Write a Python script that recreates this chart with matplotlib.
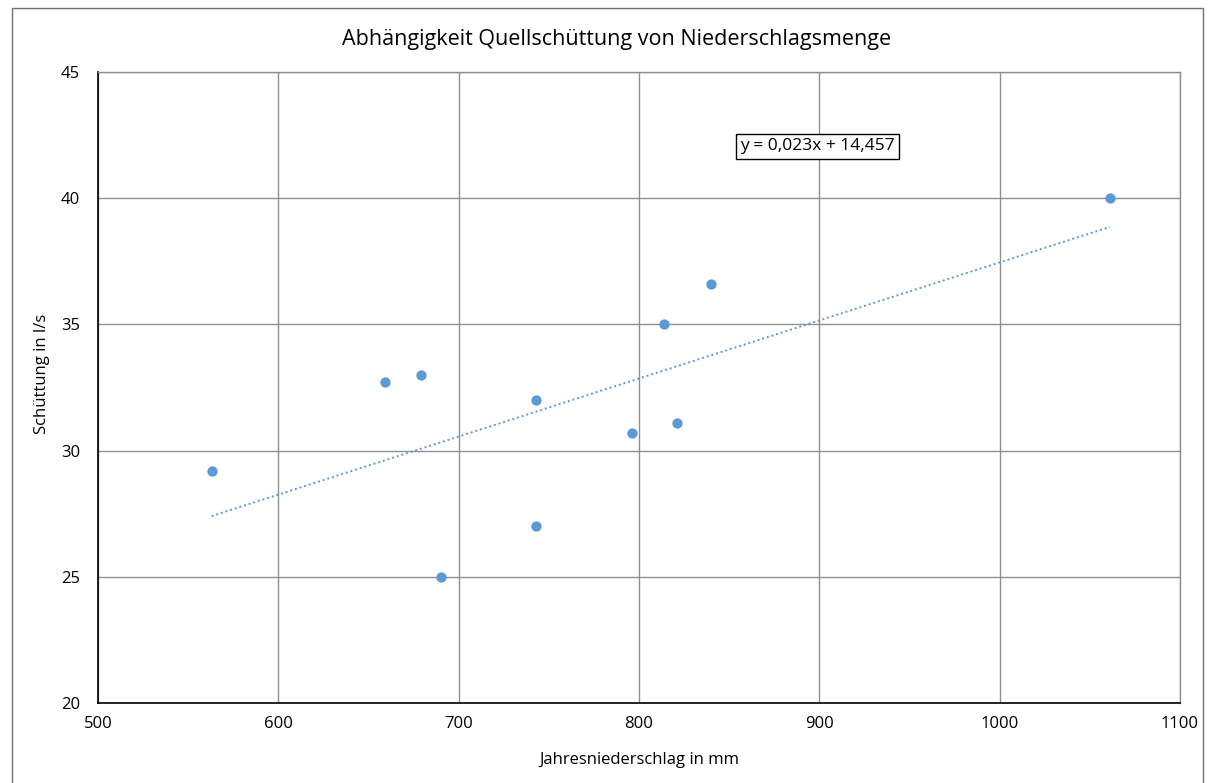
import matplotlib
matplotlib.use("Agg")
import matplotlib.pyplot as plt
from matplotlib.patches import Rectangle

plt.rcParams['font.family'] = ['Open Sans', 'DejaVu Sans']

# Jahresniederschlag (mm) and Schuettung (l/s)
niederschlag = [563, 659, 679, 690, 743, 743, 796, 814, 821, 840, 1061]
schuettung = [29.2, 32.7, 33.0, 25.0, 32.0, 27.0, 30.7, 35.0, 31.1, 36.6, 40.0]

# linear trend as given in the chart label
slope = 0.023
intercept = 14.457
trend_label = "y = 0,023x + 14,457"

x_ticks = [500, 600, 700, 800, 900, 1000, 1100]
y_ticks = [20, 25, 30, 35, 40, 45]

blue = "#5B9BD5"
grid_col = "#8f8f8f"
W, H = 1215, 783

fig = plt.figure(figsize=(W / 100, H / 100), dpi=100)
ax = fig.add_axes([98 / W, 1 - 703 / H, (1180 - 98) / W, (703 - 72) / H])

# outer chart frame (cut off at the bottom like the original)
fig.patches.append(Rectangle((12 / W, -0.05), (1203 - 12) / W, 1 - 8 / H + 0.05,
                             transform=fig.transFigure, fill=False,
                             edgecolor="#6e6e6e", linewidth=1.0))

ax.set_xlim(500, 1100)
ax.set_ylim(20, 45)
ax.set_xticks(x_ticks)
ax.set_yticks(y_ticks)
ax.tick_params(length=0, labelsize=12, colors="#000000")
ax.tick_params(axis="x", pad=9)
ax.tick_params(axis="y", pad=13)
ax.grid(True, color=grid_col, linewidth=1.0)
ax.set_axisbelow(True)

for side in ["top", "right"]:
    ax.spines[side].set_color(grid_col)
    ax.spines[side].set_linewidth(1.0)
for side in ["left", "bottom"]:
    ax.spines[side].set_color("#000000")
    ax.spines[side].set_linewidth(1.2)

# trendline
x0, x1 = min(niederschlag), max(niederschlag)
ax.plot([x0, x1], [slope * x0 + intercept, slope * x1 + intercept],
        linestyle=(0, (1, 1.5)), color=blue, linewidth=1.4, zorder=3)

ax.scatter(niederschlag, schuettung, s=55, color=blue, zorder=4, linewidths=0)

ax.text(898.8, 42.05, trend_label, ha="center", va="center", fontsize=12.5,
        bbox=dict(boxstyle="square,pad=0.25", facecolor="white",
                  edgecolor="#000000", linewidth=1.0))

fig.text(617 / W, 1 - 40 / H, "Abhängigkeit Quellschüttung von Niederschlagsmenge",
         ha="center", va="center", fontsize=15.5)
fig.text(639 / W, 1 - 760 / H, "Jahresniederschlag in mm",
         ha="center", va="center", fontsize=12)
fig.text(42 / W, 1 - 374 / H, "Schüttung in l/s", rotation=90,
         ha="center", va="center", fontsize=12)

fig.savefig("out.png", dpi=100)
